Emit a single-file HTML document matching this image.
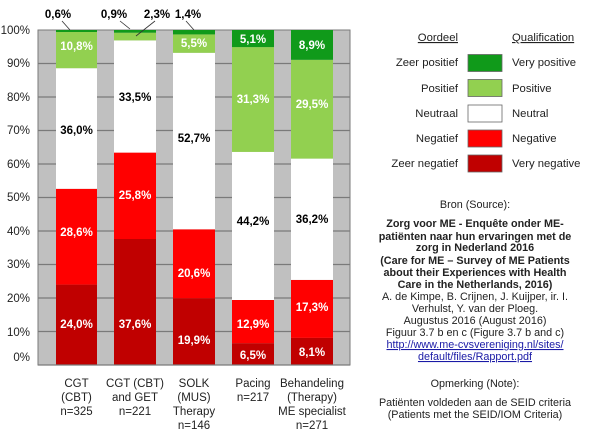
<!DOCTYPE html>
<html><head><meta charset="utf-8"><style>
html,body{margin:0;padding:0;background:#fff;}
svg{display:block;font-family:"Liberation Sans",sans-serif;}
</style></head><body>
<svg width="600" height="438" viewBox="0 0 600 438">
<rect x="38" y="30" width="312" height="335" fill="#c0c0c0" stroke="#7a7a7a" stroke-width="1"/>
<g stroke="#7a7a7a" stroke-width="1.2">
<line x1="38" x2="350" y1="63.5" y2="63.5"/><line x1="38" x2="350" y1="97" y2="97"/>
<line x1="38" x2="350" y1="130.5" y2="130.5"/><line x1="38" x2="350" y1="164" y2="164"/>
<line x1="38" x2="350" y1="197.5" y2="197.5"/><line x1="38" x2="350" y1="231" y2="231"/>
<line x1="38" x2="350" y1="264.5" y2="264.5"/><line x1="38" x2="350" y1="298" y2="298"/>
<line x1="38" x2="350" y1="331.5" y2="331.5"/>
</g>
<g font-size="11.5" fill="#222" text-anchor="end">
<text x="30" y="34">100%</text><text x="30" y="67">90%</text><text x="30" y="101">80%</text>
<text x="30" y="134">70%</text><text x="30" y="168">60%</text><text x="30" y="201">50%</text>
<text x="30" y="235">40%</text><text x="30" y="268">30%</text><text x="30" y="302">20%</text>
<text x="30" y="336">10%</text><text x="30" y="361">0%</text>
</g>
<rect x="56" y="284.6" width="41" height="80.4" fill="#c00000"/>
<rect x="56" y="188.8" width="41" height="95.8" fill="#ff0000"/>
<rect x="56" y="68.2" width="41" height="120.6" fill="#fff"/>
<rect x="56" y="32" width="41" height="36.2" fill="#92d050"/>
<rect x="56" y="30" width="41" height="2" fill="#109a1a"/>
<rect x="114" y="239" width="42" height="126" fill="#c00000"/>
<rect x="114" y="152.6" width="42" height="86.4" fill="#ff0000"/>
<rect x="114" y="40.4" width="42" height="112.2" fill="#fff"/>
<rect x="114" y="32.7" width="42" height="7.7" fill="#92d050"/>
<rect x="114" y="30" width="42" height="2.7" fill="#109a1a"/>
<rect x="173" y="298.3" width="42" height="66.7" fill="#c00000"/>
<rect x="173" y="229.3" width="42" height="69" fill="#ff0000"/>
<rect x="173" y="52.8" width="42" height="176.5" fill="#fff"/>
<rect x="173" y="34.4" width="42" height="18.4" fill="#92d050"/>
<rect x="173" y="30" width="42" height="4.4" fill="#109a1a"/>
<rect x="232" y="343.2" width="42" height="21.8" fill="#c00000"/>
<rect x="232" y="300" width="42" height="43.2" fill="#ff0000"/>
<rect x="232" y="151.9" width="42" height="148.1" fill="#fff"/>
<rect x="232" y="47.1" width="42" height="104.8" fill="#92d050"/>
<rect x="232" y="30" width="42" height="17.1" fill="#109a1a"/>
<rect x="291" y="337.9" width="42" height="27.1" fill="#c00000"/>
<rect x="291" y="279.9" width="42" height="58" fill="#ff0000"/>
<rect x="291" y="158.6" width="42" height="121.3" fill="#fff"/>
<rect x="291" y="59.8" width="42" height="98.8" fill="#92d050"/>
<rect x="291" y="30" width="42" height="29.8" fill="#109a1a"/>
<line x1="38" x2="350" y1="365" y2="365" stroke="#7a7a7a" stroke-width="1.2"/>
<g font-size="11.5" font-weight="bold" text-anchor="middle">
<g fill="#fff">
<text x="76.5" y="328">24,0%</text><text x="76.5" y="236">28,6%</text><text x="76.5" y="50">10,8%</text>
<text x="135" y="328">37,6%</text><text x="135" y="199">25,8%</text>
<text x="194" y="344">19,9%</text><text x="194" y="277">20,6%</text><text x="194" y="47">5,5%</text>
<text x="253" y="359">6,5%</text><text x="253" y="328">12,9%</text><text x="253" y="103">31,3%</text><text x="253" y="43">5,1%</text>
<text x="312" y="356">8,1%</text><text x="312" y="311">17,3%</text><text x="312" y="108">29,5%</text><text x="312" y="49">8,9%</text>
</g>
<g fill="#000">
<text x="76.5" y="134">36,0%</text><text x="135" y="101">33,5%</text><text x="194" y="142">52,7%</text>
<text x="253" y="225">44,2%</text><text x="312" y="223">36,2%</text>
<text x="58" y="18">0,6%</text><text x="114" y="18">0,9%</text><text x="157" y="18">2,3%</text><text x="188" y="18">1,4%</text>
</g>
</g>
<g stroke="#333" stroke-width="0.8">
<line x1="62" y1="21" x2="70" y2="30"/><line x1="120" y1="21" x2="130" y2="29"/>
<line x1="155" y1="21" x2="136" y2="36"/><line x1="186" y1="21" x2="194" y2="30"/>
</g>
<g font-size="11.5" fill="#222" text-anchor="middle">
<text x="76.5" y="387">CGT</text><text x="76.5" y="401">(CBT)</text><text x="76.5" y="415">n=325</text>
<text x="135" y="387">CGT (CBT)</text><text x="135" y="401">and GET</text><text x="135" y="415">n=221</text>
<text x="194" y="387">SOLK</text><text x="194" y="401">(MUS)</text><text x="194" y="415">Therapy</text><text x="194" y="429">n=146</text>
<text x="253" y="387">Pacing</text><text x="253" y="401">n=217</text>
<text x="312" y="387">Behandeling</text><text x="312" y="401">(Therapy)</text><text x="312" y="415">ME specialist</text><text x="312" y="429">n=271</text>
</g>
<g font-size="11.3" fill="#222">
<text x="458" y="41" text-anchor="end" text-decoration="underline">Oordeel</text>
<text x="512" y="41" text-decoration="underline">Qualification</text>
<g text-anchor="end">
<text x="458" y="66">Zeer positief</text><text x="458" y="92">Positief</text><text x="458" y="117">Neutraal</text>
<text x="458" y="142">Negatief</text><text x="458" y="167">Zeer negatief</text>
</g>
<text x="512" y="66">Very positive</text><text x="512" y="92">Positive</text><text x="512" y="117">Neutral</text>
<text x="512" y="142">Negative</text><text x="512" y="167">Very negative</text>
</g>
<g stroke="#666" stroke-width="0.8">
<rect x="468" y="54.5" width="34" height="17" fill="#109a1a"/>
<rect x="468" y="79.5" width="34" height="17" fill="#92d050"/>
<rect x="468" y="105" width="34" height="17" fill="#fff"/>
<rect x="468" y="130" width="34" height="17" fill="#ff0000"/>
<rect x="468" y="155" width="34" height="17" fill="#c00000"/>
</g>
<g font-size="10.8" fill="#222" text-anchor="middle">
<text x="475" y="208">Bron (Source):</text>
<g font-weight="bold">
<text x="475" y="227">Zorg voor ME - Enquête onder ME-</text>
<text x="475" y="240">patiënten naar hun ervaringen met de</text>
<text x="475" y="251">zorg in Nederland 2016</text>
<text x="475" y="264">(Care for ME – Survey of ME Patients</text>
<text x="475" y="276">about their Experiences with Health</text>
<text x="475" y="288">Care in the Netherlands, 2016)</text>
</g>
<text x="475" y="300">A. de Kimpe, B. Crijnen, J. Kuijper, ir. I.</text>
<text x="475" y="312">Verhulst, Y. van der Ploeg.</text>
<text x="475" y="324">Augustus 2016 (August 2016)</text>
<text x="475" y="336">Figuur 3.7 b en c (Figure 3.7 b and c)</text>
<text x="475" y="348" fill="#1a1aa6" text-decoration="underline">http://www.me-cvsvereniging.nl/sites/</text>
<text x="475" y="360" fill="#1a1aa6" text-decoration="underline">default/files/Rapport.pdf</text>
<text x="475" y="387">Opmerking (Note):</text>
<text x="475" y="406">Patiënten voldeden aan de SEID criteria</text>
<text x="475" y="418">(Patients met the SEID/IOM Criteria)</text>
</g>
</svg>
</body></html>
